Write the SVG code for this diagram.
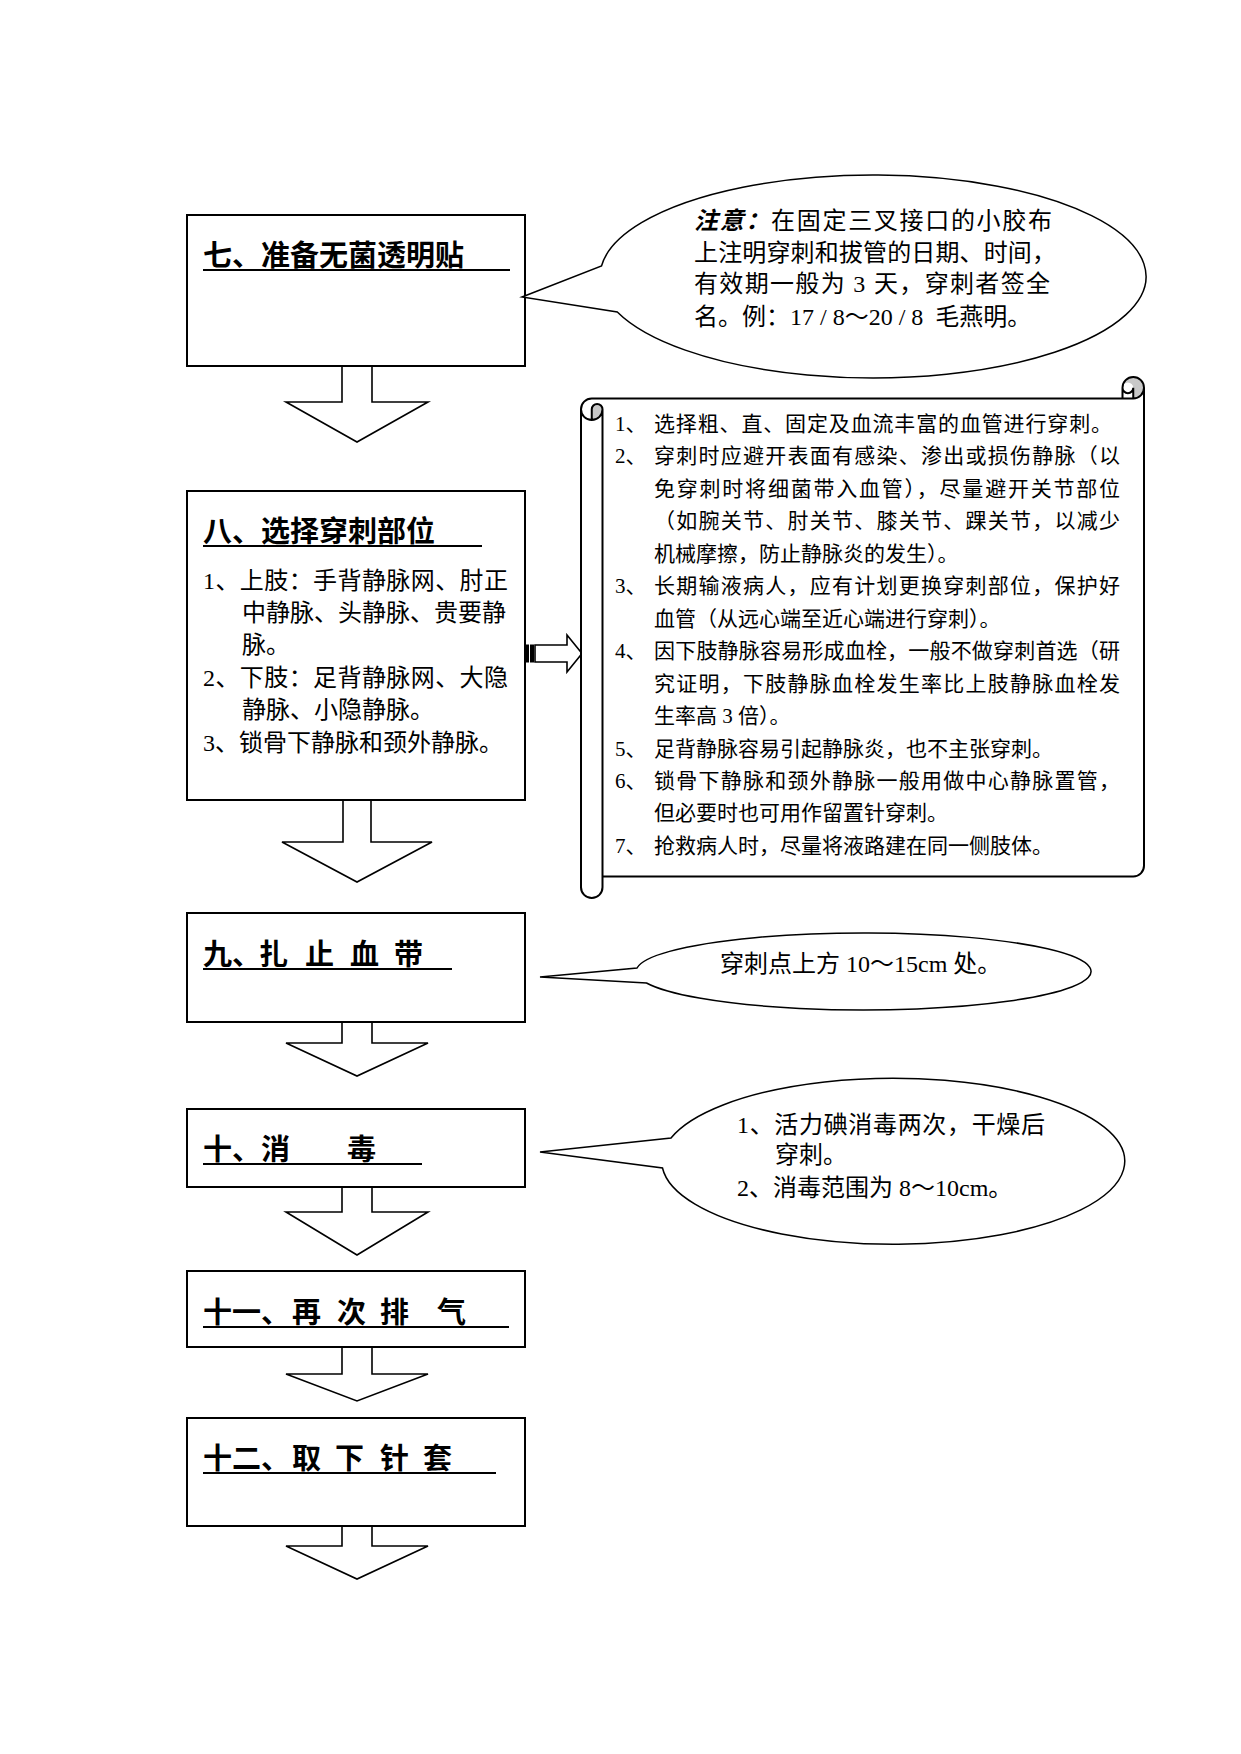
<svg xmlns="http://www.w3.org/2000/svg" width="1241" height="1754" viewBox="0 0 1241 1754">
<style>
.bg{fill:#fff}
.box{fill:#fff;stroke:#000;stroke-width:2}
.arr{fill:#fff;stroke:#000;stroke-width:1.6;stroke-linejoin:miter}
.call{fill:#fff;stroke:#000;stroke-width:1.5}
.ul{stroke:#000;stroke-width:2.2}
.t{font-family:'Liberation Serif','Noto Sans CJK SC',serif;fill:#000}
.h{font-size:29px;font-weight:bold}
.b{font-size:24px}
.s{font-size:21px}
</style>
<rect class="bg" x="0" y="0" width="1241" height="1754"/>

<g id="connectors">
  <path class="arr" d="M342,366 V402 H286 L357,442 L428,402 H372 V366"/>
  <path class="arr" d="M343,800 V842 H282 L357,882 L432,842 H371 V800"/>
  <path class="arr" d="M342,1022 V1043 H286 L357,1076 L428,1043 H372 V1022"/>
  <path class="arr" d="M342,1187 V1212 H286 L357,1255 L428,1212 H372 V1187"/>
  <path class="arr" d="M342,1347 V1374 H286 L357,1401 L428,1374 H372 V1347"/>
  <path class="arr" d="M342,1526 V1546 H286 L357,1579 L428,1546 H372 V1526"/>
  <g id="striped-arrow">
    <rect x="526" y="645" width="2.5" height="17" fill="#000" stroke="#000" stroke-width="1"/>
    <rect x="530.5" y="645" width="3" height="17" fill="#000" stroke="#000" stroke-width="1"/>
    <path class="arr" d="M535,645 L567,645 L567,635 L582,653.5 L567,672 L567,662 L535,662 Z"/>
  </g>
</g>

<g id="node7">
  <rect class="box" x="187" y="215" width="338" height="151"/>
  <text class="t h" x="203" y="266">七、准备无菌透明贴</text>
  <line class="ul" x1="203" y1="270" x2="510" y2="270"/>
</g>

<g id="note7">
  <path class="call" d="M601.5,266 A273,101.5 0 1 1 617.3,312 L522,297 Z"/>
  <text class="t b" x="694" y="229" textLength="358" lengthAdjust="spacing"><tspan font-weight="bold" font-style="italic">注意：</tspan>在固定三叉接口的小胶布</text>
  <text class="t b" x="694" y="261" textLength="362" lengthAdjust="spacing">上注明穿刺和拔管的日期、时间，</text>
  <text class="t b" x="694" y="292" textLength="356" lengthAdjust="spacing">有效期一般为 3 天，穿刺者签全</text>
  <text class="t b" x="694" y="325" xml:space="preserve">名。例：17 / 8～20 / 8  毛燕明。</text>
</g>

<g id="node8">
  <rect class="box" x="187" y="491" width="338" height="309"/>
  <text class="t h" x="203" y="542">八、选择穿刺部位</text>
  <line class="ul" x1="203" y1="546" x2="482" y2="546"/>
  <text class="t b" x="203" y="588.5" textLength="305" lengthAdjust="spacing">1、上肢：手背静脉网、肘正</text>
  <text class="t b" x="242" y="620.9">中静脉、头静脉、贵要静</text>
  <text class="t b" x="242" y="653.3">脉。</text>
  <text class="t b" x="203" y="685.7" textLength="305" lengthAdjust="spacing">2、下肢：足背静脉网、大隐</text>
  <text class="t b" x="242" y="718.1">静脉、小隐静脉。</text>
  <text class="t b" x="203" y="750.5">3、锁骨下静脉和颈外静脉。</text>
</g>

<g id="scroll8">
  <path fill="#fff" stroke="none" d="M1144,387.75 A10.75,10.75 0 0 1 1133.25,398.5 A5.375,5.375 0 0 1 1122.5,398.5 L591.75,398.5 A10.75,10.75 0 0 0 581,409.25 L581,887.25 A10.75,10.75 0 0 0 602.5,887.25 L602.5,876.5 L1133.25,876.5 A10.75,10.75 0 0 0 1144,865.75 Z"/>
  <path fill="#c8c8c8" stroke="none" d="M591.75,420 A10.75,10.75 0 0 0 602.5,409.25 A5.375,5.375 0 0 0 591.75,409.25 Z M1133.25,398.5 A10.75,10.75 0 1 0 1122.5,387.75 A5.375,5.375 0 0 1 1133.25,387.75 Z"/>
  <path fill="none" stroke="#000" stroke-width="2" d="M581,409.25 A10.75,10.75 0 0 1 591.75,398.5 L1122.5,398.5 L1122.5,387.75 A10.75,10.75 0 0 1 1144,387.75 L1144,865.75 A10.75,10.75 0 0 1 1133.25,876.5 L602.5,876.5 L602.5,887.25 A10.75,10.75 0 0 1 581,887.25 Z M1122.5,398.5 L1133.25,398.5 A10.75,10.75 0 0 0 1144,387.75 M1133.25,398.5 L1133.25,387.75 A5.375,5.375 0 0 1 1122.5,387.75 M591.75,420 L591.75,409.25 A5.375,5.375 0 0 1 602.5,409.25 A10.75,10.75 0 0 1 581,409.25 M602.5,409.25 L602.5,876.5"/>
  <g class="t s">
    <text x="615" y="431">1、</text>
    <text x="654" y="431" textLength="458" lengthAdjust="spacing">选择粗、直、固定及血流丰富的血管进行穿刺。</text>
    <text x="615" y="463.4">2、</text>
    <text x="654" y="463.4" textLength="466" lengthAdjust="spacing">穿刺时应避开表面有感染、渗出或损伤静脉（以</text>
    <text x="654" y="495.9" textLength="466" lengthAdjust="spacing">免穿刺时将细菌带入血管），尽量避开关节部位</text>
    <text x="654" y="528.3" textLength="466" lengthAdjust="spacing">（如腕关节、肘关节、膝关节、踝关节，以减少</text>
    <text x="654" y="560.8">机械摩擦，防止静脉炎的发生）。</text>
    <text x="615" y="593.2">3、</text>
    <text x="654" y="593.2" textLength="466" lengthAdjust="spacing">长期输液病人，应有计划更换穿刺部位，保护好</text>
    <text x="654" y="625.7">血管（从远心端至近心端进行穿刺）。</text>
    <text x="615" y="658.1">4、</text>
    <text x="654" y="658.1" textLength="466" lengthAdjust="spacing">因下肢静脉容易形成血栓，一般不做穿刺首选（研</text>
    <text x="654" y="690.6" textLength="466" lengthAdjust="spacing">究证明，下肢静脉血栓发生率比上肢静脉血栓发</text>
    <text x="654" y="723">生率高 3 倍）。</text>
    <text x="615" y="755.5">5、</text>
    <text x="654" y="755.5">足背静脉容易引起静脉炎，也不主张穿刺。</text>
    <text x="615" y="787.9">6、</text>
    <text x="654" y="787.9" textLength="466" lengthAdjust="spacing">锁骨下静脉和颈外静脉一般用做中心静脉置管，</text>
    <text x="654" y="820.4">但必要时也可用作留置针穿刺。</text>
    <text x="615" y="852.8">7、</text>
    <text x="654" y="852.8">抢救病人时，尽量将液路建在同一侧肢体。</text>
  </g>
</g>

<g id="node9">
  <rect class="box" x="187" y="913" width="338" height="109"/>
  <text class="t h" y="965"><tspan x="203">九、</tspan><tspan x="259">扎</tspan><tspan x="305">止</tspan><tspan x="350">血</tspan><tspan x="394">带</tspan></text>
  <line class="ul" x1="203" y1="969" x2="452" y2="969"/>
</g>

<g id="note9">
  <path class="call" d="M637,968 A227.5,38.5 0 1 1 646.5,983 L540,977 Z"/>
  <text class="t b" x="720" y="972">穿刺点上方 10～15cm 处。</text>
</g>

<g id="node10">
  <rect class="box" x="187" y="1109" width="338" height="78"/>
  <text class="t h" y="1160"><tspan x="203">十、</tspan><tspan x="261">消</tspan><tspan x="347">毒</tspan></text>
  <line class="ul" x1="203" y1="1164" x2="422" y2="1164"/>
</g>

<g id="note10">
  <path class="call" d="M671,1138 A231.5,83 0 1 1 662.5,1168 L540,1152 Z"/>
  <text class="t b" x="737" y="1133" textLength="308" lengthAdjust="spacing">1、活力碘消毒两次，干燥后</text>
  <text class="t b" x="775" y="1163">穿刺。</text>
  <text class="t b" x="737" y="1196">2、消毒范围为 8～10cm。</text>
</g>

<g id="node11">
  <rect class="box" x="187" y="1271" width="338" height="76"/>
  <text class="t h" y="1323"><tspan x="203">十一、</tspan><tspan x="292">再</tspan><tspan x="337">次</tspan><tspan x="380">排</tspan><tspan x="437">气</tspan></text>
  <line class="ul" x1="203" y1="1327" x2="509" y2="1327"/>
</g>

<g id="node12">
  <rect class="box" x="187" y="1418" width="338" height="108"/>
  <text class="t h" y="1469"><tspan x="203">十二、</tspan><tspan x="292">取</tspan><tspan x="335">下</tspan><tspan x="380">针</tspan><tspan x="423">套</tspan></text>
  <line class="ul" x1="203" y1="1473" x2="496" y2="1473"/>
</g>
</svg>
